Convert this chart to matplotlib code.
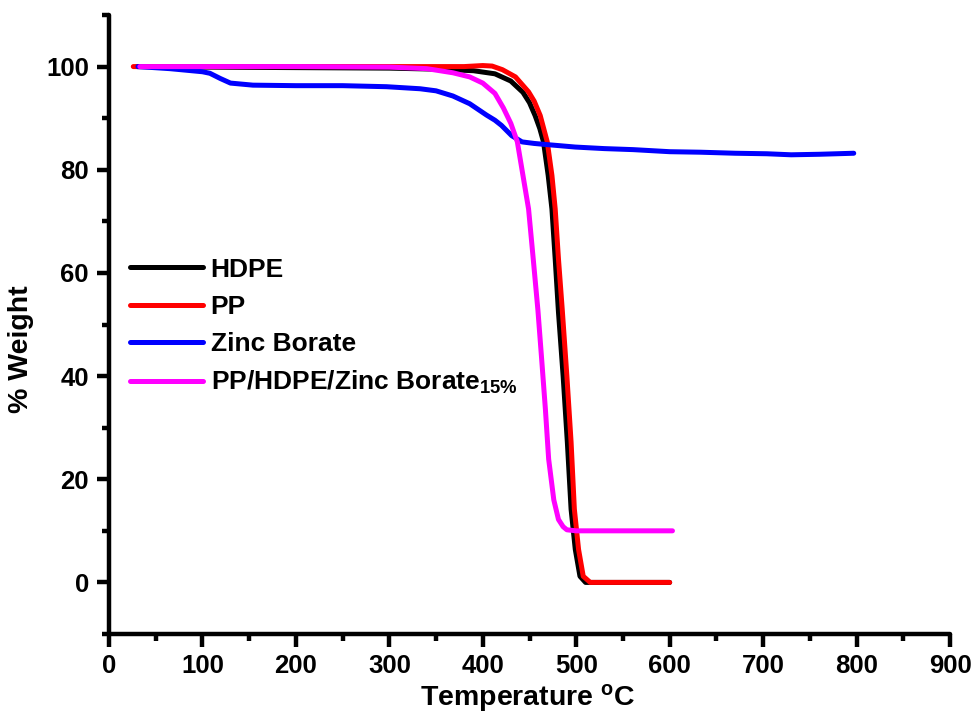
import matplotlib
matplotlib.use("Agg")
import matplotlib.pyplot as plt
from matplotlib.ticker import MultipleLocator

plt.rcParams['font.family'] = ['Liberation Sans', 'DejaVu Sans']
plt.rcParams['font.weight'] = 'bold'
plt.rcParams['mathtext.fontset'] = 'custom'
plt.rcParams['mathtext.rm'] = 'Liberation Sans:bold'
plt.rcParams['mathtext.bf'] = 'Liberation Sans:bold'
plt.rcParams['mathtext.it'] = 'Liberation Sans:bold'

# ---- data ----
hdpe_T = [30, 100, 200, 300, 350, 390, 413, 430, 443, 450, 456, 461, 465, 470,
          474, 477.5, 481, 486, 490.5, 494.5, 499, 504, 510, 540, 600]
hdpe_W = [100, 99.9, 99.8, 99.7, 99.5, 99.2, 98.6, 97.2, 95, 93, 90.5, 88, 85.4, 78.9,
          72.4, 62.7, 52.4, 40, 27.2, 14.2, 6.4, 1.2, 0, 0, 0]

pp_T = [26, 100, 200, 300, 380, 400, 410, 421, 435, 449, 455, 461.5, 469, 474,
        477.5, 481, 485, 490, 494.5, 498, 502.5, 507.5, 515, 550, 600]
pp_W = [100, 100, 100, 100, 100, 100.2, 100.1, 99.4, 98, 95.1, 93.3, 90.5, 85.4, 78.9,
        72.4, 62.7, 53, 40, 27.2, 14.2, 6.4, 1.2, 0, 0, 0]

zb_T = [31, 65, 100, 108, 119, 130, 154, 200, 250, 297, 333, 350, 368, 386, 404,
        413, 420, 431, 442, 455, 467, 480, 499, 530, 561, 600, 633, 670, 704, 730,
        760, 797]
zb_W = [100, 99.6, 99.0, 98.7, 97.7, 96.8, 96.4, 96.3, 96.3, 96.1, 95.7, 95.3, 94.3,
        92.8, 90.6, 89.6, 88.6, 86.6, 85.4, 85.1, 84.9, 84.7, 84.4, 84.1, 83.9, 83.5,
        83.4, 83.2, 83.1, 82.9, 83.0, 83.2]

blend_T = [33, 100, 200, 300, 340, 368, 386, 400, 413, 422, 430, 437, 443, 449, 454,
           459, 463, 467, 470.5, 476, 481, 486, 490, 500, 550, 603]
blend_W = [100, 100, 100, 99.9, 99.6, 98.8, 98, 96.8, 94.8, 92, 89, 85.4, 78.9, 72.4,
           62.7, 52.8, 43.3, 33.6, 23.9, 16, 12.2, 10.8, 10.2, 10, 10, 10]

labels = ['HDPE', 'PP', 'Zinc Borate', r'PP/HDPE/Zinc Borate$_{15\%}$']
colors = ['black', '#ff0000', '#0000ff', '#ff00ff']

fig = plt.figure(figsize=(9.74, 7.23), dpi=100)
ax = fig.add_axes([109/974, 1-634/723, (950-109)/974, (634-15)/723])

series = [(hdpe_T, hdpe_W), (pp_T, pp_W), (zb_T, zb_W), (blend_T, blend_W)]
for (t, w), lab, c in zip(series, labels, colors):
    ax.plot(t, w, color=c, lw=3.6, label=lab, solid_capstyle='round',
            solid_joinstyle='round')

ax.set_xlim(0, 900)
ax.set_ylim(-10, 110)
ax.xaxis.set_major_locator(MultipleLocator(100))
ax.xaxis.set_minor_locator(MultipleLocator(50))
ax.yaxis.set_minor_locator(MultipleLocator(10))
ax.set_yticks([0, 20, 40, 60, 80, 100])

for s in ['top', 'right']:
    ax.spines[s].set_visible(False)
for s in ['left', 'bottom']:
    ax.spines[s].set_linewidth(3.2)
    ax.spines[s].set_capstyle('round')

ax.tick_params(which='major', direction='out', length=9, width=3.2,
               labelsize=18.5, pad=5.5)
ax.tick_params(which='minor', direction='out', length=5, width=3.2)
for lab in ax.get_xticklabels() + ax.get_yticklabels():
    lab.set_fontweight('bold')

ax.set_xlabel(r'Temperature $^{\mathrm{o}}$C', fontsize=20.5, fontweight='bold')
ax.xaxis.set_label_coords(0.498, -0.077)
ax.set_ylabel('% Weight', fontsize=20.5, fontweight='bold')
ax.yaxis.set_label_coords(-0.089, 0.46)

leg = ax.legend(loc='upper left', bbox_to_anchor=(0.025, 0.608), frameon=False,
                fontsize=19, handlelength=2.75, handletextpad=0.3,
                labelspacing=0.5, borderpad=0, borderaxespad=0)
for t in leg.get_texts():
    t.set_fontweight('bold')
for l in leg.get_lines():
    l.set_linewidth(3.6)

fig.savefig('out.png', dpi=100)
